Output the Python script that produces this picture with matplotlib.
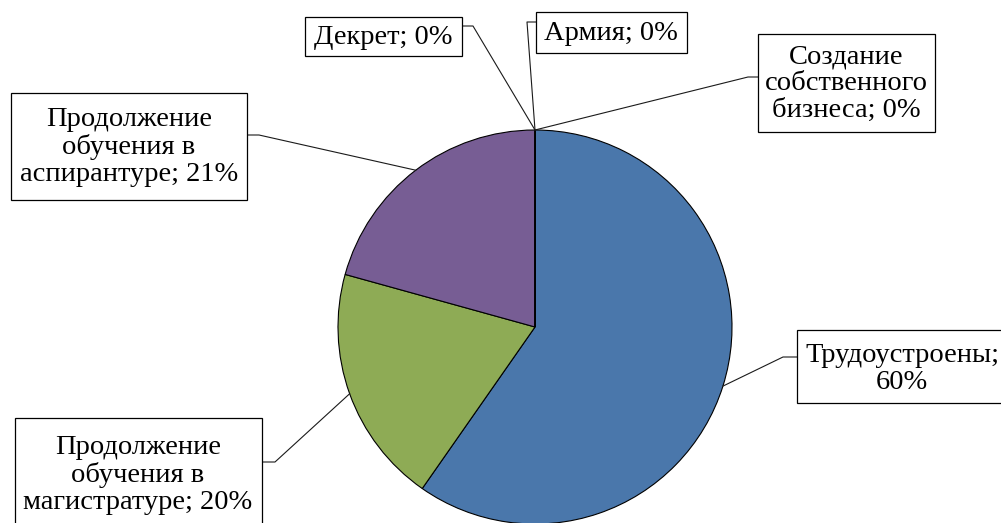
import matplotlib.pyplot as plt
import numpy as np
from matplotlib.patches import Rectangle

# data (shares in %, labels show rounded values)
categories = [
    "Трудоустроены",
    "Продолжение\nобучения в\nмагистратуре",
    "Продолжение\nобучения в\nаспирантуре",
    "Декрет",
    "Армия",
    "Создание\nсобственного\nбизнеса",
]
shares = [59.7, 19.6, 20.7, 0, 0, 0]
colors = ["#4A77AB", "#8EAB55", "#775D94", "#C0504D", "#4BACC6", "#F79646"]

W, H = 1001, 523


def px(x, y):
    # pixel coords (origin top-left) -> data coords
    return x, H - y


# label layout in pixels: box (x0, y0, x1, y1), text centre, box anchor, elbow
label_boxes = [
    (797, 330, 1012, 403),
    (15, 418, 262, 535),
    (11, 93, 247, 200),
    (305, 17, 462, 56),
    (536, 12, 687, 53),
    (758, 34, 935, 132),
]
label_centres = [(902, 369), (138, 475), (129, 147), (383, 37), (611, 33), (846, 84)]
leader_paths = [
    [(797, 357), (783, 357)],
    [(262, 462), (275, 462)],
    [(247, 135), (259, 135)],
    [(462, 26), (473, 26)],
    [(536, 22), (527, 22)],
    [(758, 77), (748, 77)],
]

plt.rcParams["font.family"] = ["Liberation Serif", "DejaVu Serif"]

fig = plt.figure(figsize=(W / 100, H / 100), dpi=100)
ax = fig.add_axes([0, 0, 1, 1])

cx, cy = px(535, 327)
radius = 197
wedges, _ = ax.pie(
    shares,
    colors=colors,
    startangle=90,
    counterclock=False,
    center=(cx, cy),
    radius=radius,
    wedgeprops=dict(edgecolor="black", linewidth=0.8),
)

for i, w in enumerate(wedges):
    mid = np.deg2rad((w.theta1 + w.theta2) / 2)
    tip = (cx + radius * np.cos(mid), cy + radius * np.sin(mid))
    pts = [px(*p) for p in leader_paths[i]] + [tip]
    ax.plot([p[0] for p in pts], [p[1] for p in pts], color="#1a1a1a", lw=0.8, zorder=3)

    x0, y0, x1, y1 = label_boxes[i]
    ax.add_patch(Rectangle(px(x0, y1), x1 - x0, y1 - y0, facecolor="white",
                           edgecolor="black", lw=0.9, zorder=4))
    sep = "\n" if i == 0 else " "
    text = f"{categories[i]};{sep}{round(shares[i])}%"
    tx, ty = px(*label_centres[i])
    ax.text(tx, ty, text, ha="center", va="center", fontsize=20.5,
            linespacing=1.1, zorder=5)

ax.set_xlim(0, W)
ax.set_ylim(0, H)
ax.set_aspect("equal")
ax.axis("off")

fig.savefig("out.png", dpi=100, facecolor="white")
